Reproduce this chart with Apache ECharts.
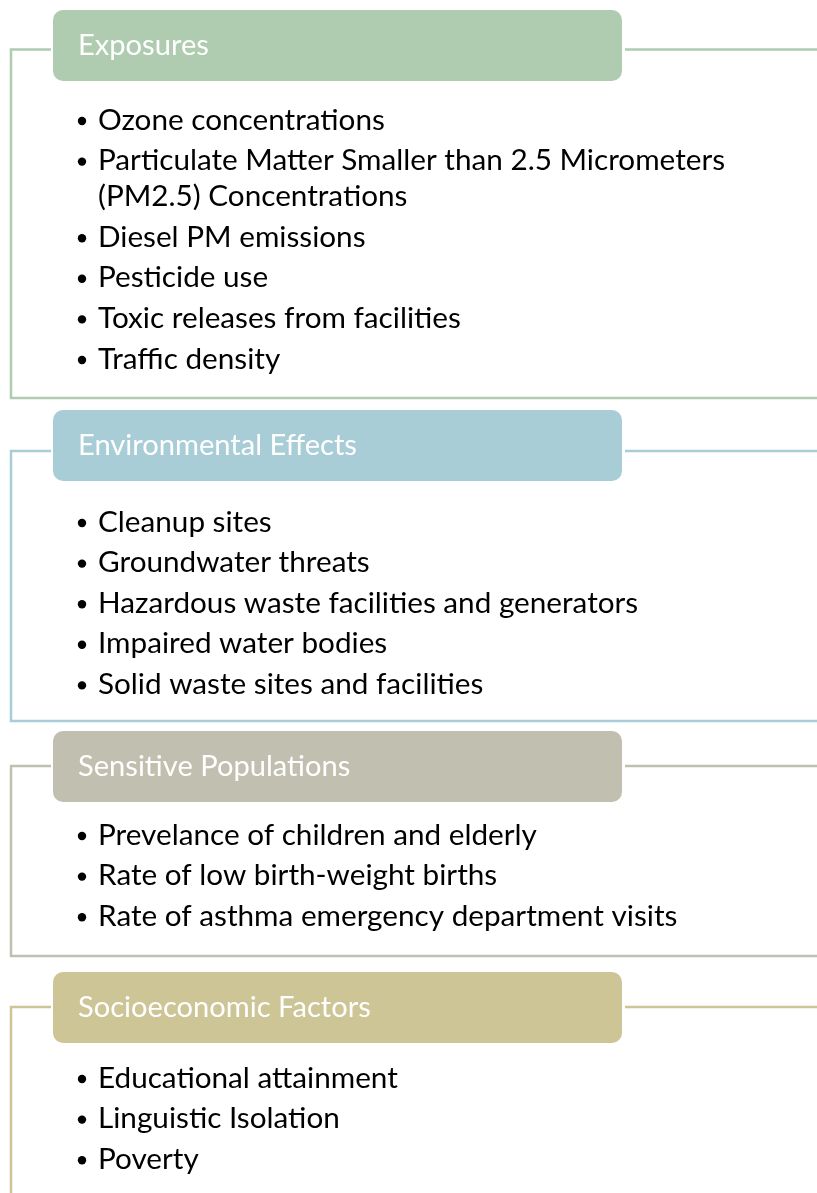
<!DOCTYPE html>
<html>
<head>
<meta charset="utf-8">
<script src="https://cdn.jsdelivr.net/npm/echarts/dist/echarts.min.js"></script>
<style>
  html, body { margin: 0; padding: 0; background: #fff; }
  #main { width: 817px; height: 1193px; }
</style>
</head>
<body>
<div id="main"></div>
<script>
// section headings and their bullet lists
var sectionTitles = ['Exposures', 'Environmental Effects', 'Sensitive Populations', 'Socioeconomic Factors'];
var exposures = [
  'Ozone concentrations',
  'Particulate Matter Smaller than 2.5 Micrometers\n(PM2.5) Concentrations',
  'Diesel PM emissions',
  'Pesticide use',
  'Toxic releases from facilities',
  'Traffic density'
];
var environmentalEffects = [
  'Cleanup sites',
  'Groundwater threats',
  'Hazardous waste facilities and generators',
  'Impaired water bodies',
  'Solid waste sites and facilities'
];
var sensitivePopulations = [
  'Prevelance of children and elderly',
  'Rate of low birth-weight births',
  'Rate of asthma emergency department visits'
];
var socioeconomicFactors = [
  'Educational attainment',
  'Linguistic Isolation',
  'Poverty'
];
var sectionItems = [exposures, environmentalEffects, sensitivePopulations, socioeconomicFactors];

// layout / style (not data)
var colors = ['#afcbb0', '#a9cdd6', '#c0bfb0', '#cdc596'];
var boxTop = [10, 410, 731, 972];
var connectorY = [49.5, 451, 766, 1007];
var firstItemY = [120, 522, 835, 1078];
var bottomLineY = [398, 721, 956, 1220];
var boxX = 53, boxW = 569, boxH = 71;
var fontFamily = 'Lato';

// size the font so the widest lines match the original widths
var ctx = document.createElement('canvas').getContext('2d');
ctx.font = '100px ' + fontFamily;
var itemSize = 627 / ctx.measureText('Particulate Matter Smaller than 2.5 Micrometers').width * 100;
var titleSize = 279 / ctx.measureText('Environmental Effects').width * 100;

var chartDom = document.getElementById('main');
var myChart = echarts.init(chartDom, null, { renderer: 'canvas' });

var elements = [];
sectionTitles.forEach(function (title, i) {
  var c = colors[i];
  // connectors
  elements.push({ type: 'polyline', shape: { points: [[51, connectorY[i]], [11, connectorY[i]], [11, bottomLineY[i]], [817, bottomLineY[i]]] },
    style: { stroke: c, lineWidth: 2.5, fill: null } });
  elements.push({ type: 'line', shape: { x1: 625, y1: connectorY[i], x2: 817, y2: connectorY[i] },
    style: { stroke: c, lineWidth: 2.5 } });
  // heading box
  elements.push({ type: 'rect', shape: { x: boxX, y: boxTop[i], width: boxW, height: boxH, r: 10 },
    style: { fill: c } });
  elements.push({ type: 'text', x: 78, y: boxTop[i] + boxH / 2,
    style: { text: title, fill: '#ffffff', font: titleSize.toFixed(2) + 'px ' + fontFamily, verticalAlign: 'middle', align: 'left' } });
  // bullets
  var y = firstItemY[i];
  sectionItems[i].forEach(function (item) {
    var lines = item.split('\n').length;
    elements.push({ type: 'circle', shape: { cx: 82, cy: y + 1, r: 4.2 }, style: { fill: '#000' } });
    elements.push({ type: 'text', x: 98, y: y - 18,
      style: { text: item, fill: '#000', font: itemSize.toFixed(2) + 'px ' + fontFamily, lineHeight: 36, verticalAlign: 'top', align: 'left' } });
    y += 40.6 + 36 * (lines - 1);
  });
});

var option = {
  backgroundColor: '#ffffff',
  animation: false,
  graphic: { elements: elements }
};

option && myChart.setOption(option);
</script>
</body>
</html>
